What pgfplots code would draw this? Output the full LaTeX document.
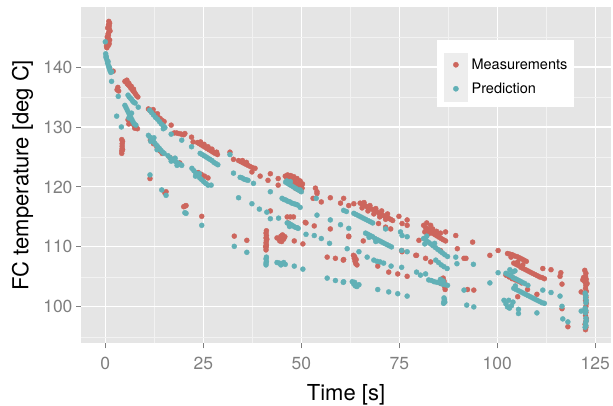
\documentclass[border=0pt]{standalone}
\usepackage{fontspec}
\setmainfont{TeX Gyre Heros}
\usepackage{pgfplots}
\usepackage{pgfplotstable}
\pgfplotsset{compat=1.18}
\definecolor{meas}{RGB}{205,102,93}
\definecolor{pred}{RGB}{97,176,182}
\definecolor{panel}{RGB}{229,229,229}
\definecolor{minorgrid}{RGB}{242,242,242}
\definecolor{keybg}{RGB}{237,237,237}
\definecolor{ticklab}{RGB}{127,127,127}

\pgfplotstableread{
t y
0.4 143.2
0.5 143.8
0.6 144.3
0.7 144.8
0.8 145.3
0.9 145.8
1.0 146.3
1.0 146.8
1.1 147.3
0.9 147.6
0.6 146.5
0.7 145.5
1.1 144.5
0.8 143.6
1.2 146.0
0.5 145.0
0.3 143.5
1.0 143.9
0.8 147.0
2.0 139.3
3.2 136.6
3.0 136.2
3.4 136.0
5.0 137.6
5.3 137.5
5.6 137.2
5.9 137.0
6.2 136.8
6.5 136.5
6.8 136.3
7.1 136.0
7.4 135.8
7.7 135.5
8.0 135.2
8.3 135.0
5.5 137.8
6.0 137.3
6.6 136.8
7.2 136.3
5.8 131.2
6.3 130.9
6.8 130.6
7.3 130.3
7.8 130.0
8.2 129.7
6.0 130.5
7.5 129.8
4.2 125.6
4.2 126.0
4.3 126.4
4.3 126.8
4.3 127.2
4.4 127.6
4.2 127.9
4.4 126.2
11.0 133.0
11.5 132.7
12.0 132.4
12.5 132.2
13.0 131.9
13.5 131.6
14.0 131.4
14.5 131.1
15.0 130.9
12.2 132.9
13.3 132.2
16.8 130.3
17.6 129.0
18.2 129.0
18.8 128.9
19.4 128.8
20.0 128.7
20.3 128.9
22.0 128.3
22.4 127.5
23.5 127.4
24.0 127.2
24.5 127.0
25.0 126.8
25.5 126.6
26.0 126.4
26.5 126.2
27.0 126.0
27.5 125.8
28.0 125.6
28.6 125.4
24.3 127.5
25.2 127.1
26.2 126.7
27.2 126.3
11.5 127.8
12.3 127.2
13.2 126.6
14.0 126.0
14.5 125.6
19.0 124.0
16.5 124.9
11.4 121.4
23.7 122.4
24.5 122.1
25.3 121.8
26.2 121.5
15.5 119.2
15.2 119.0
20.3 116.8
20.6 116.9
20.0 116.7
24.6 115.1
28.4 125.8
31.8 125.8
32.7 124.6
34.0 124.4
34.6 124.2
35.2 124.0
35.8 123.8
36.4 123.6
37.0 123.4
37.6 123.2
38.2 123.1
35.0 124.4
36.0 124.1
37.4 122.5
39.5 121.8
41.5 121.1
42.1 122.2
44.1 121.4
44.1 120.3
45.9 121.8
46.3 121.5
46.7 121.6
47.1 121.4
47.5 121.2
47.9 121.0
48.3 120.8
48.7 120.6
49.1 120.4
49.5 120.2
49.9 120.0
50.2 119.8
46.5 122.0
47.3 121.9
48.1 121.7
48.9 121.4
49.7 121.0
50.3 120.5
47.5 120.4
48.3 120.0
49.1 119.6
49.9 119.3
46.9 120.8
48.5 119.8
42.1 116.0
46.4 115.0
47.2 115.0
48.0 115.0
53.6 119.8
54.0 119.2
54.0 118.9
53.0 118.1
55.1 117.5
57.4 118.2
60.0 117.3
60.8 118.1
51.0 114.1
53.3 113.5
57.4 113.0
32.9 111.8
36.1 111.1
41.0 109.5
41.0 109.9
41.1 110.3
41.0 110.7
41.1 111.1
41.0 111.5
41.1 111.9
41.0 112.3
41.1 112.7
40.9 110.1
41.2 111.3
43.8 111.5
44.3 111.4
44.8 111.8
45.2 112.0
45.5 111.3
45.0 110.9
44.5 111.0
45.8 111.7
48.2 111.0
50.4 110.5
46.6 114.0
51.2 114.0
56.6 108.3
58.7 108.1
60.7 107.8
62.1 111.7
62.1 116.9
63.4 117.2
65.0 117.3
65.6 117.1
66.2 116.9
66.8 116.7
67.4 116.5
68.0 116.3
68.6 116.1
69.2 115.9
69.8 115.6
70.4 115.4
71.0 115.2
71.6 115.0
72.2 114.8
72.8 114.6
73.3 114.4
66.0 117.4
67.5 116.9
69.0 116.4
70.5 116.0
72.0 115.5
65.5 116.5
67.0 116.0
68.5 115.5
70.0 115.0
71.5 114.6
69.7 113.9
71.5 113.3
72.8 113.0
62.1 111.8
65.8 111.0
74.9 115.1
77.0 114.5
75.7 113.9
77.0 113.6
80.0 111.1
79.2 108.6
75.6 109.4
81.2 113.6
81.7 113.2
82.2 113.0
82.7 112.7
83.2 112.5
83.7 112.2
84.2 112.0
84.7 111.8
85.2 111.6
85.7 111.4
86.2 111.2
86.8 111.0
81.5 112.5
82.5 112.2
83.5 113.0
84.5 112.6
85.5 112.3
82.0 114.0
83.0 113.6
86.8 112.5
89.4 111.9
89.8 109.7
93.7 110.8
60.8 107.9
63.3 108.6
63.5 108.1
63.7 107.6
63.9 107.2
64.2 107.0
63.6 108.4
64.0 107.9
69.5 106.8
72.3 105.8
74.6 105.5
77.0 105.1
75.7 109.2
79.4 108.6
81.7 108.1
83.0 107.5
86.2 104.8
86.4 104.3
86.5 103.8
86.6 103.3
86.7 102.9
85.6 103.9
91.5 108.1
85.5 109.4
92.4 102.9
94.0 102.8
92.0 108.1
98.1 108.6
100.2 109.4
102.6 108.9
103.2 108.8
103.8 108.7
104.4 108.5
105.0 108.4
105.6 108.2
106.2 108.0
106.8 107.8
107.4 107.6
103.5 108.3
104.2 107.3
104.8 107.1
105.4 106.9
106.0 106.6
106.6 106.4
107.2 106.2
107.8 106.0
108.4 105.8
109.0 105.6
109.6 105.4
110.2 105.2
110.8 105.0
111.4 104.9
112.0 104.7
105.2 107.5
106.5 107.0
111.6 106.4
113.7 106.2
116.2 105.7
116.0 105.1
116.5 103.8
102.2 105.3
103.0 105.0
103.8 104.7
104.6 104.5
105.4 104.3
106.2 104.0
107.7 102.9
105.2 101.7
110.1 102.1
116.5 99.7
118.0 96.7
121.4 102.5
121.8 104.5
122.3 106.1
122.6 105.6
122.5 105.1
122.7 104.6
122.4 104.1
122.6 103.6
122.5 103.1
122.7 102.6
122.4 102.1
122.6 101.6
122.5 101.1
122.7 100.6
122.6 100.1
122.4 99.6
122.6 99.1
122.5 98.6
122.7 98.1
122.6 97.6
122.4 97.1
122.6 96.6
122.5 96.2
122.0 104.9
122.9 103.9
}\meastable

\pgfplotstableread{
t y
0.0 144.2
0.1 142.2
0.2 141.8
0.3 141.4
0.5 141.0
0.6 140.6
0.8 140.2
1.0 139.8
1.2 139.4
1.4 139.1
0.2 141.6
0.7 140.9
1.1 139.9
1.6 139.2
1.6 137.6
3.3 135.1
2.9 131.8
4.1 130.0
5.8 135.3
6.1 135.0
6.4 134.8
6.7 134.6
7.0 134.3
7.3 134.1
7.6 134.0
8.4 133.3
5.0 133.6
5.3 133.2
5.6 132.8
5.9 132.4
6.2 132.0
6.5 131.6
6.8 131.2
7.1 130.8
7.4 130.5
7.8 130.3
6.0 131.5
6.7 132.3
11.3 132.8
11.8 132.4
12.3 132.0
12.8 131.6
13.3 131.3
13.8 130.9
14.3 130.5
14.8 130.2
15.2 129.9
14.8 129.7
16.8 128.8
19.5 127.8
22.0 126.7
11.0 128.6
11.4 128.3
11.8 128.0
12.2 127.7
12.6 127.3
13.0 127.0
13.4 126.7
13.8 126.4
14.2 126.1
14.6 125.8
15.0 125.6
11.6 127.6
12.4 128.2
13.2 126.2
16.0 125.2
16.5 124.9
17.0 124.6
17.5 124.4
18.0 124.2
18.5 124.0
19.0 123.8
19.5 123.6
16.8 124.3
17.8 124.8
18.3 123.6
24.2 125.6
24.7 125.4
25.2 125.2
25.7 125.0
26.2 124.8
26.7 124.6
27.2 124.4
27.7 124.1
28.2 123.9
28.7 123.7
22.1 123.1
22.6 122.7
23.1 122.3
23.6 121.9
24.1 121.5
24.6 121.2
25.1 120.9
25.6 120.6
26.2 120.3
27.0 120.3
23.0 121.8
24.0 122.2
11.4 122.0
14.4 119.5
15.5 118.6
20.3 115.7
20.6 115.6
24.6 113.6
31.8 125.4
32.7 122.3
34.4 121.6
34.9 121.5
35.4 121.3
35.9 121.2
36.4 121.1
37.8 120.6
42.1 119.2
46.0 120.8
46.5 120.6
47.0 120.4
47.5 120.2
48.0 120.0
48.5 119.8
49.0 119.6
49.5 119.4
50.0 119.2
46.3 121.0
47.2 120.9
49.7 119.5
34.0 118.2
37.4 117.2
39.3 116.3
41.2 115.8
42.1 114.7
44.2 114.8
45.1 118.1
45.6 117.9
46.1 117.8
46.6 117.6
47.1 117.5
47.6 117.3
48.1 117.2
48.6 117.1
49.0 117.0
49.7 116.6
46.4 114.0
46.9 113.9
47.4 113.7
47.9 113.5
48.4 113.3
48.9 113.2
49.2 113.1
47.0 113.4
53.8 118.1
54.0 115.3
57.4 114.5
60.0 113.7
60.8 116.1
61.5 115.9
32.9 110.1
36.1 109.1
41.0 107.0
41.0 107.3
41.1 107.6
41.0 108.0
41.1 108.3
43.8 107.4
44.4 107.3
45.0 107.2
45.5 107.4
45.9 107.1
44.8 107.0
48.2 106.8
50.4 106.3
51.2 112.1
53.3 111.9
55.1 111.4
57.2 110.6
61.7 109.7
56.6 104.8
58.7 104.4
60.7 104.1
63.4 115.6
64.0 115.4
64.6 115.2
65.2 115.0
65.8 114.8
66.4 114.6
67.0 114.4
67.6 114.2
68.2 114.0
62.1 113.1
71.5 113.0
66.4 112.3
67.0 112.1
67.6 111.9
68.2 111.7
68.8 111.4
69.4 111.2
70.0 111.0
70.6 110.8
71.2 110.6
71.8 110.4
72.4 110.2
73.0 110.0
67.3 111.6
69.0 110.9
64.7 109.2
66.8 108.3
75.3 112.5
75.7 111.9
77.0 111.7
75.6 109.4
77.0 109.2
81.2 111.4
81.8 111.1
82.4 110.8
83.0 110.5
83.6 110.2
84.2 109.9
84.8 109.6
85.4 109.3
86.0 109.0
86.6 108.7
87.3 108.4
82.0 111.8
84.0 110.6
81.5 110.5
89.4 108.3
89.7 107.2
68.5 107.8
69.3 107.6
70.1 107.5
71.0 107.3
72.9 106.8
75.6 106.6
60.8 104.2
63.0 104.2
63.4 103.8
63.8 103.5
64.2 103.4
64.7 103.7
63.6 104.1
69.5 102.9
72.3 102.5
74.6 102.2
77.0 101.8
79.4 105.8
80.4 105.3
81.7 105.5
82.5 104.5
83.2 104.4
83.9 104.2
84.6 104.1
85.3 104.0
86.0 103.8
86.7 103.7
87.3 103.6
85.5 104.6
86.2 104.3
86.3 100.6
86.4 100.9
86.5 101.2
86.4 101.5
86.6 100.8
84.3 107.8
85.0 107.4
85.7 107.0
86.4 106.7
87.2 106.4
93.9 107.1
91.5 102.8
92.2 100.3
94.0 100.0
98.1 104.0
100.2 105.7
102.2 105.6
102.8 105.4
103.4 105.2
104.0 104.9
104.6 104.7
105.2 104.5
105.8 104.3
106.4 104.1
107.0 103.9
107.8 103.6
103.9 105.8
103.2 106.2
104.5 106.0
104.2 103.1
104.8 102.9
105.4 102.7
106.0 102.5
106.6 102.3
107.2 102.1
107.8 101.9
108.4 101.7
109.0 101.5
109.6 101.3
110.2 101.1
110.8 100.9
111.4 100.7
112.0 100.6
104.6 103.5
111.6 102.8
113.7 102.4
101.7 101.1
102.2 100.5
102.6 100.0
103.1 99.8
103.6 100.2
104.0 100.8
102.9 101.1
105.4 99.6
105.4 98.9
110.1 99.0
116.0 101.8
116.5 100.1
116.7 98.0
118.0 97.5
121.4 99.3
122.4 102.3
122.6 101.9
122.5 101.5
122.7 101.1
122.6 100.7
122.4 99.8
122.6 99.4
122.5 99.0
122.6 98.1
122.7 97.7
122.5 97.3
122.6 96.9
122.4 96.6
}\predtable

\begin{document}
\begin{tikzpicture}
\useasboundingbox (0pt,0pt) rectangle (613pt,406pt);
\begin{axis}[
  at={(81pt,62.5pt)}, anchor=south west,
  width=530pt, height=336.5pt, scale only axis,
  xmin=-6.2, xmax=129, ymin=93.9, ymax=150,
  axis background/.style={fill=panel},
  axis line style={draw=none},
  xtick={0,25,50,75,100,125}, ytick={100,110,120,130,140},
  minor xtick={12.5,37.5,62.5,87.5,112.5},
  minor ytick={95,105,115,125,135,145},
  grid=both,
  major grid style={white, line width=1.1pt},
  minor grid style={minorgrid, line width=0.55pt},
  major tick style={ticklab, line width=0.9pt},
  minor tick style={draw=none},
  major tick length=5pt,
  minor tick length=0pt,
  tick align=outside,
  tick pos=left,
  /pgf/number format/assume math mode=true,
  tick label style={font=\fontsize{17.5}{20}\selectfont, text=ticklab},
  xticklabel style={yshift=-5.5pt},
  xlabel={Time [s]},
  ylabel={FC temperature [deg C]},
  every axis x label/.style={at={(axis description cs:0.5,-0.17028)}, anchor=base, font=\fontsize{22}{26}\selectfont},
  every axis y label/.style={at={(axis description cs:-0.09943,0.5)}, anchor=base, rotate=90, font=\fontsize{22}{26}\selectfont},
  legend cell align=left,
  legend style={at={(axis description cs:0.6717,0.902)}, anchor=north west,
    draw=none, fill=white, inner xsep=7pt, inner ysep=6pt,
    column sep=4pt, row sep=0pt,
    nodes={inner xsep=0pt},
    font=\fontsize{14.5}{17}\selectfont},
]
\addplot[only marks, mark=*, mark size=2.5pt, color=meas,
  legend image code/.code={\path[draw=none, fill=none] (0pt,-12pt) rectangle (23pt,18.6pt); \fill[keybg] (0pt,-12pt) rectangle (23pt,11.6pt); \fill[meas] (11.5pt,0pt) circle (2.6pt);}]
  table[x=t, y=y] {\meastable};
\addlegendentry{Measurements}
\addplot[only marks, mark=*, mark size=2.5pt, color=pred,
  legend image code/.code={\fill[keybg] (0pt,-12pt) rectangle (23pt,11.6pt); \fill[pred] (11.5pt,0pt) circle (2.6pt);}]
  table[x=t, y=y] {\predtable};
\addlegendentry{Prediction}
\end{axis}
\end{tikzpicture}
\end{document}
